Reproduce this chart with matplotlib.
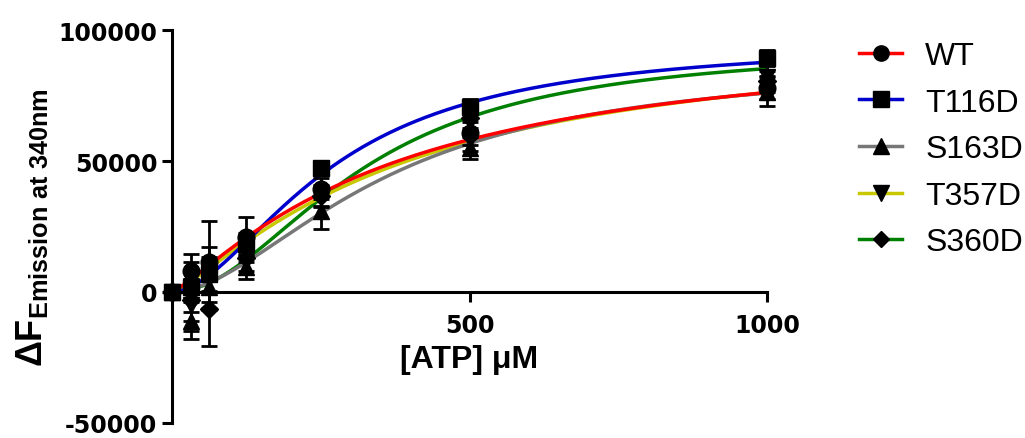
import matplotlib
matplotlib.use("Agg")
import matplotlib.pyplot as plt
import numpy as np

plt.rcParams["mathtext.fontset"] = "custom"
plt.rcParams["mathtext.rm"] = "Liberation Sans:bold"
plt.rcParams["mathtext.it"] = "Liberation Sans:bold"
plt.rcParams["mathtext.bf"] = "Liberation Sans:bold"
plt.rcParams["axes.unicode_minus"] = False

# ATP concentrations (uM)
atp = [0, 31.25, 62.5, 125, 250, 500, 1000]

labels = ["WT", "T116D", "S163D", "T357D", "S360D"]
colors = ["#ff0000", "#0000cc", "#777777", "#c8c800", "#008000"]
markers = ["o", "s", "^", "v", "D"]

# mean delta F at each concentration
wt = [0, 8000, 11500, 21000, 39500, 60500, 78000]
t116d = [0, 2000, 7000, 18500, 47300, 70800, 89300]
s163d = [0, -11000, 2000, 9500, 31000, 55000, 76500]
t357d = [0, -5000, 5000, 16500, 37000, 58000, 82000]
s360d = [0, -3000, -6500, 13000, 36500, 66500, 80500]

# error bars (SD)
wt_err = [0, 6500, 15500, 7500, 4000, 4500, 4500]
t116d_err = [0, 9500, 6500, 4000, 2500, 3000, 3000]
s163d_err = [0, 7000, 8000, 4500, 7000, 4200, 5500]
t357d_err = [0, 10000, 12000, 5000, 4000, 4000, 4500]
s360d_err = [0, 8000, 14000, 5000, 4000, 4000, 4000]

# Hill fit parameters: Bmax, K, h
fit_bmax = [100000, 96000, 88000, 100000, 94000]
fit_k = [380, 270, 360, 395, 320]
fit_h = [1.2, 1.8, 1.8, 1.25, 2.0]

means = [wt, t116d, s163d, t357d, s360d]
errs = [wt_err, t116d_err, s163d_err, t357d_err, s360d_err]

fig = plt.figure(figsize=(10.25, 4.39), dpi=100)
ax = fig.add_axes([172 / 1025, 15 / 439, 595 / 1025, 393 / 439])

xfit = np.linspace(0, 1000, 400)
for i in reversed(range(len(labels))):
    yfit = fit_bmax[i] * xfit ** fit_h[i] / (fit_k[i] ** fit_h[i] + xfit ** fit_h[i])
    ax.plot(xfit, yfit, color=colors[i], lw=2.5, zorder=2, clip_on=False)

for i in range(len(labels)):
    ax.errorbar(atp, means[i], yerr=errs[i], fmt="none", ecolor="black",
                elinewidth=2, capsize=5.5, capthick=2, zorder=3, clip_on=False)
for i in range(len(labels)):
    ax.plot(atp, means[i], ls="none", marker=markers[i], ms=12 if markers[i] != "D" else 9,
            color="black", zorder=4, clip_on=False)

# legend proxies
handles = []
for i in range(len(labels)):
    h, = ax.plot([], [], color=colors[i], lw=2.5, marker=markers[i],
                 ms=11 if markers[i] != "D" else 8, mfc="black", mec="black")
    handles.append(h)
ax.legend(handles, labels, loc="upper left", bbox_to_anchor=(859 / 1025, 397 / 439),
          bbox_transform=fig.transFigure, frameon=False,
          prop={"family": "Liberation Sans", "size": 23},
          handlelength=1.35, handletextpad=0.72, labelspacing=0.52, borderaxespad=0,
          borderpad=0)

ax.set_xlim(0, 1000)
ax.set_ylim(-50000, 100000)
ax.set_xticks([500, 1000])
ax.set_yticks([-50000, 0, 50000, 100000])
ax.spines["bottom"].set_position(("data", 0))
ax.spines["top"].set_visible(False)
ax.spines["right"].set_visible(False)
for s in ["left", "bottom"]:
    ax.spines[s].set_linewidth(2.2)
ax.tick_params(axis="both", width=2.2, length=7, direction="out")
ax.tick_params(axis="x", pad=8)
for lab in ax.get_xticklabels() + ax.get_yticklabels():
    lab.set_fontfamily("DejaVu Sans")
    lab.set_fontweight("bold")
    lab.set_fontsize(17)

ax.set_xlabel("[ATP] μM", fontsize=23, fontweight="bold", family="Liberation Sans", labelpad=5)
ax.set_ylabel(r"$\Delta\mathrm{F}_{\mathrm{Emission\ at\ 340nm}}$", fontsize=26)
ax.yaxis.set_label_coords(-0.205, 0.5)

fig.savefig("out.png", dpi=100)
